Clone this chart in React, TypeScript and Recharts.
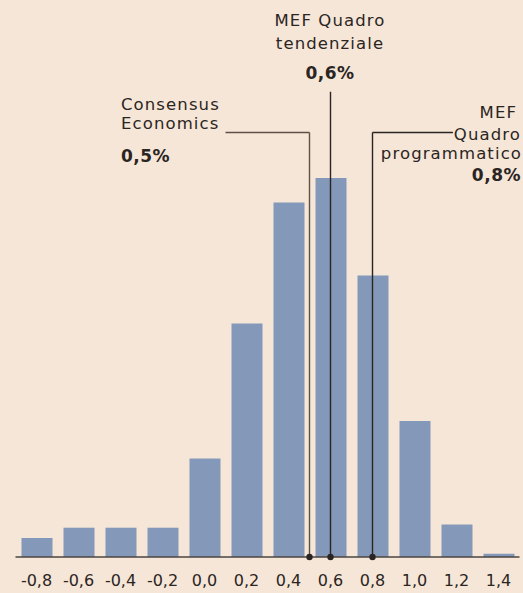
import { BarChart, Bar, XAxis, YAxis, ReferenceLine, ReferenceDot } from "recharts";

const categories = ["-0,8", "-0,6", "-0,4", "-0,2", "0,0", "0,2", "0,4", "0,6", "0,8", "1,0", "1,2", "1,4"];
const centers = [-0.8, -0.6, -0.4, -0.2, 0, 0.2, 0.4, 0.6, 0.8, 1.0, 1.2, 1.4];
const shares = [1.17, 1.8, 1.8, 1.8, 6.05, 14.35, 21.8, 23.3, 17.3, 8.36, 2.0, 0.2];

// forecasts marked on the chart
const consensus = 0.5;
const mefTrend = 0.6;
const mefProgram = 0.8;

const data = categories.map((label, i) => ({ label, x: centers[i], value: shares[i] }));

const BG = "#f6e6d7";
const BAR = "#8499b9";
const INK = "#2a2522";
const BROWN = "#5e5047";
const FONT = "'DejaVu Sans', sans-serif";

const txt = { fontFamily: FONT, fontSize: 16.5, fill: INK, letterSpacing: 1.1 };
const bold = { ...txt, fontSize: 17, fontWeight: 700, letterSpacing: 0.5 };

const App = () => {
  return (
    <div style={{ position: "relative", width: 523, height: 593, background: BG }}>
      <style>{"body{margin:0}"}</style>
      <BarChart
        width={523}
        height={593}
        data={data}
        margin={{ top: 4, right: 3.5, left: 15.5, bottom: 0 }}
      >
        <XAxis
          xAxisId="cat"
          dataKey="label"
          height={36}
          tickLine={false}
          tickMargin={12}
          axisLine={{ stroke: "#4a4440", strokeWidth: 1.4 }}
          tick={{ fontFamily: FONT, fontSize: 16, fill: INK }}
          interval={0}
        />
        <XAxis xAxisId="num" dataKey="x" type="number" domain={[-0.9, 1.5]} allowDataOverflow hide />
        <YAxis domain={[0, 34]} hide />
        <Bar xAxisId="cat" dataKey="value" fill={BAR} barSize={31} isAnimationActive={false} />

        <ReferenceLine xAxisId="num" segment={[{ x: consensus, y: 0 }, { x: consensus, y: 26.1 }]} stroke={BROWN} strokeWidth={1.4} />
        <ReferenceLine xAxisId="num" segment={[{ x: consensus, y: 26.1 }, { x: 0.1, y: 26.1 }]} stroke={BROWN} strokeWidth={1.4} />
        <ReferenceLine xAxisId="num" segment={[{ x: mefTrend, y: 0 }, { x: mefTrend, y: 28.6 }]} stroke={INK} strokeWidth={1.4} />
        <ReferenceLine xAxisId="num" segment={[{ x: mefProgram, y: 0 }, { x: mefProgram, y: 26.1 }]} stroke={INK} strokeWidth={1.4} />
        <ReferenceLine xAxisId="num" segment={[{ x: mefProgram, y: 26.1 }, { x: 1.183, y: 26.1 }]} stroke={INK} strokeWidth={1.4} />

        <ReferenceDot xAxisId="num" x={consensus} y={0} r={3.2} fill={INK} stroke="none" />
        <ReferenceDot xAxisId="num" x={mefTrend} y={0} r={3.2} fill={INK} stroke="none" />
        <ReferenceDot xAxisId="num" x={mefProgram} y={0} r={3.2} fill={INK} stroke="none" />
      </BarChart>

      <svg width={523} height={593} style={{ position: "absolute", left: 0, top: 0, pointerEvents: "none" }}>
        <text x={121} y={110} style={txt}>Consensus</text>
        <text x={121} y={129} style={txt}>Economics</text>
        <text x={121} y={162} style={bold}>0,5%</text>

        <text x={330} y={26} textAnchor="middle" style={txt}>MEF Quadro</text>
        <text x={330} y={49} textAnchor="middle" style={txt}>tendenziale</text>
        <text x={330} y={79} textAnchor="middle" style={bold}>0,6%</text>

        <text x={517} y={118} textAnchor="end" style={txt}>MEF</text>
        <text x={521} y={140} textAnchor="end" style={txt}>Quadro</text>
        <text x={522} y={159} textAnchor="end" style={txt}>programmatico</text>
        <text x={521} y={181} textAnchor="end" style={bold}>0,8%</text>
      </svg>
    </div>
  );
};

export default App;
